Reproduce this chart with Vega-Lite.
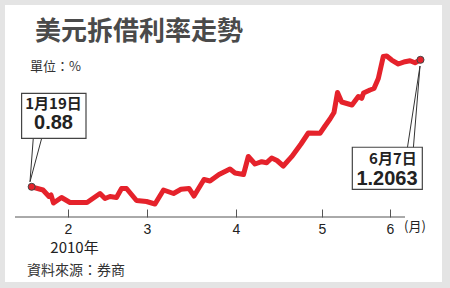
{
  "$schema": "https://vega.github.io/schema/vega-lite/v6.json",
  "width": 437,
  "height": 277,
  "autosize": {"type": "none"},
  "padding": {"left": 5, "top": 5, "right": 8, "bottom": 6},
  "background": "#e4e4e4",
  "config": {"view": {"fill": "white", "stroke": null}},
  "data": {"values": [
    {"m": 1.546, "rate": 0.88},
    {"m": 1.6875, "rate": 0.8718},
    {"m": 1.7625, "rate": 0.8551},
    {"m": 1.7875, "rate": 0.859},
    {"m": 1.8188, "rate": 0.8384},
    {"m": 1.9188, "rate": 0.8526},
    {"m": 2.025, "rate": 0.8397},
    {"m": 2.15, "rate": 0.8397},
    {"m": 2.2375, "rate": 0.8397},
    {"m": 2.4, "rate": 0.8628},
    {"m": 2.4625, "rate": 0.85},
    {"m": 2.525, "rate": 0.8551},
    {"m": 2.606, "rate": 0.8526},
    {"m": 2.669, "rate": 0.8757},
    {"m": 2.731, "rate": 0.8757},
    {"m": 2.856, "rate": 0.8448},
    {"m": 2.981, "rate": 0.8423},
    {"m": 3.0875, "rate": 0.8358},
    {"m": 3.194, "rate": 0.8718},
    {"m": 3.319, "rate": 0.8628},
    {"m": 3.4125, "rate": 0.8736},
    {"m": 3.5125, "rate": 0.8757},
    {"m": 3.575, "rate": 0.8564},
    {"m": 3.7, "rate": 0.8988},
    {"m": 3.775, "rate": 0.8949},
    {"m": 3.8875, "rate": 0.9116},
    {"m": 4.025, "rate": 0.9258},
    {"m": 4.0875, "rate": 0.9155},
    {"m": 4.194, "rate": 0.9116},
    {"m": 4.254, "rate": 0.9579},
    {"m": 4.3375, "rate": 0.9386},
    {"m": 4.421, "rate": 0.9445},
    {"m": 4.484, "rate": 0.942},
    {"m": 4.546, "rate": 0.954},
    {"m": 4.6125, "rate": 0.9476},
    {"m": 4.691, "rate": 0.9335},
    {"m": 4.796, "rate": 0.9574},
    {"m": 4.9125, "rate": 0.99},
    {"m": 5.004, "rate": 1.0183},
    {"m": 5.15, "rate": 1.0175},
    {"m": 5.2125, "rate": 1.0363},
    {"m": 5.275, "rate": 1.0542},
    {"m": 5.325, "rate": 1.0709},
    {"m": 5.369, "rate": 1.1223},
    {"m": 5.421, "rate": 1.0979},
    {"m": 5.55, "rate": 1.0902},
    {"m": 5.629, "rate": 1.1121},
    {"m": 5.671, "rate": 1.1074},
    {"m": 5.694, "rate": 1.121},
    {"m": 5.775, "rate": 1.1288},
    {"m": 5.825, "rate": 1.1326},
    {"m": 5.879, "rate": 1.1583},
    {"m": 5.941, "rate": 1.2148},
    {"m": 5.984, "rate": 1.2161},
    {"m": 6.046, "rate": 1.2058},
    {"m": 6.129, "rate": 1.1956},
    {"m": 6.2125, "rate": 1.2015},
    {"m": 6.275, "rate": 1.204},
    {"m": 6.3375, "rate": 1.1989},
    {"m": 6.406, "rate": 1.2063}
  ]},
  "layer": [
    {
      "data": {"values": [{}]},
      "mark": {"type": "rule", "color": "#555555", "strokeWidth": 1},
      "encoding": {
        "x": {"datum": 1.3375, "type": "quantitative", "scale": {"domain": [1.2125, 6.675], "nice": false, "zero": false}, "axis": {
          "orient": "bottom", "offset": -65, "domain": false, "grid": false,
          "values": [2.0, 2.9875, 4.1, 5.175, 6.025],
          "labelExpr": "round(datum.value)",
          "tickSize": -8, "tickColor": "#555555", "tickWidth": 1,
          "labelFont": "Liberation Sans", "labelFontSize": 14, "labelColor": "#222222",
          "labelPadding": 13, "title": null
        }},
        "x2": {"datum": 6.2125},
        "y": {"datum": 0.8024, "type": "quantitative", "scale": {"domain": [0.6354, 1.3472], "nice": false, "zero": false}, "axis": null}
      }
    },
    {
      "mark": {"type": "line", "color": "#e5222b", "strokeWidth": 5, "strokeJoin": "round"},
      "encoding": {
        "x": {"field": "m", "type": "quantitative", "title": null},
        "y": {"field": "rate", "type": "quantitative", "axis": null}
      }
    },
    {
      "transform": [{"filter": "datum.m < 1.6 || datum.m > 6.4"}],
      "mark": {"type": "point", "filled": true, "fill": "#e5222b", "stroke": "#444444", "strokeWidth": 1, "size": 50, "opacity": 1},
      "encoding": {
        "x": {"field": "m", "type": "quantitative", "title": null},
        "y": {"field": "rate", "type": "quantitative"}
      }
    },
    {
      "data": {"values": [{}]},
      "mark": {"type": "rule", "color": "#333333", "strokeWidth": 1},
      "encoding": {"x": {"datum": 1.566, "type": "quantitative"}, "y": {"datum": 1.0047, "type": "quantitative"}, "x2": {"datum": 1.525}, "y2": {"datum": 0.8929}}
    },
    {
      "data": {"values": [{}]},
      "mark": {"type": "rule", "color": "#333333", "strokeWidth": 1},
      "encoding": {"x": {"datum": 1.671, "type": "quantitative"}, "y": {"datum": 1.0047, "type": "quantitative"}, "x2": {"datum": 1.525}, "y2": {"datum": 0.8929}}
    },
    {
      "data": {"values": [{}]},
      "mark": {"type": "rule", "color": "#333333", "strokeWidth": 1},
      "encoding": {"x": {"datum": 6.1625, "type": "quantitative"}, "y": {"datum": 0.8736, "type": "quantitative"}, "x2": {"datum": 6.4}, "y2": {"datum": 1.1904}}
    },
    {
      "data": {"values": [{}]},
      "mark": {"type": "rule", "color": "#333333", "strokeWidth": 1},
      "encoding": {"x": {"datum": 6.275, "type": "quantitative"}, "y": {"datum": 0.8736, "type": "quantitative"}, "x2": {"datum": 6.4}, "y2": {"datum": 1.1904}}
    },
    {
      "data": {"values": [{}]},
      "mark": {"type": "rect", "fill": "white", "stroke": "#444444", "strokeWidth": 1.2},
      "encoding": {"x": {"datum": 1.42, "type": "quantitative"}, "x2": {"datum": 2.225}, "y": {"datum": 1.1203, "type": "quantitative"}, "y2": {"datum": 1.0047}}
    },
    {
      "data": {"values": [{}]},
      "mark": {"type": "rect", "fill": "white", "stroke": "#444444", "strokeWidth": 1.2},
      "encoding": {"x": {"datum": 5.554, "type": "quantitative"}, "x2": {"datum": 6.429}, "y": {"datum": 0.9816, "type": "quantitative"}, "y2": {"datum": 0.8736}}
    },
    {
      "data": {"values": [{}]},
      "mark": {"type": "text", "font": "Noto Sans CJK TC", "fontSize": 26, "fontWeight": "bold", "color": "#4a4a4a", "align": "left", "baseline": "middle"},
      "encoding": {"x": {"datum": 1.5875, "type": "quantitative"}, "y": {"datum": 1.2791, "type": "quantitative"}, "text": {"value": "美元拆借利率走勢"}}
    },
    {
      "data": {"values": [{}]},
      "mark": {"type": "text", "font": "Noto Sans CJK TC", "fontSize": 13, "color": "#333333", "align": "left", "baseline": "middle"},
      "encoding": {"x": {"datum": 1.525, "type": "quantitative"}, "y": {"datum": 1.1891, "type": "quantitative"}, "text": {"value": "單位：%"}}
    },
    {
      "data": {"values": [{}]},
      "mark": {"type": "text", "font": "Noto Sans CJK TC", "fontSize": 15, "fontWeight": "bold", "color": "#222222", "align": "center", "baseline": "middle"},
      "encoding": {"x": {"datum": 1.81875, "type": "quantitative"}, "y": {"datum": 1.0928, "type": "quantitative"}, "text": {"value": "1月19日"}}
    },
    {
      "data": {"values": [{}]},
      "mark": {"type": "text", "font": "Liberation Sans", "fontSize": 20, "fontWeight": "bold", "color": "#222222", "align": "center", "baseline": "middle"},
      "encoding": {"x": {"datum": 1.81875, "type": "quantitative"}, "y": {"datum": 1.0427, "type": "quantitative"}, "text": {"value": "0.88"}}
    },
    {
      "data": {"values": [{}]},
      "mark": {"type": "text", "font": "Noto Sans CJK TC", "fontSize": 15, "fontWeight": "bold", "color": "#222222", "align": "right", "baseline": "middle"},
      "encoding": {"x": {"datum": 6.36, "type": "quantitative"}, "y": {"datum": 0.9515, "type": "quantitative"}, "text": {"value": "6月7日"}}
    },
    {
      "data": {"values": [{}]},
      "mark": {"type": "text", "font": "Liberation Sans", "fontSize": 20, "fontWeight": "bold", "color": "#222222", "align": "right", "baseline": "middle"},
      "encoding": {"x": {"datum": 6.37, "type": "quantitative"}, "y": {"datum": 0.8988, "type": "quantitative"}, "text": {"value": "1.2063"}}
    },
    {
      "data": {"values": [{}]},
      "mark": {"type": "text", "font": "Noto Sans CJK TC", "fontSize": 13, "color": "#222222", "align": "left", "baseline": "middle"},
      "encoding": {"x": {"datum": 6.2, "type": "quantitative"}, "y": {"datum": 0.7768, "type": "quantitative"}, "text": {"value": "(月)"}}
    },
    {
      "data": {"values": [{}]},
      "mark": {"type": "text", "font": "Noto Sans CJK TC", "fontSize": 15, "color": "#222222", "align": "center", "baseline": "middle"},
      "encoding": {"x": {"datum": 2.08125, "type": "quantitative"}, "y": {"datum": 0.7215, "type": "quantitative"}, "text": {"value": "2010年"}}
    },
    {
      "data": {"values": [{}]},
      "mark": {"type": "text", "font": "Noto Sans CJK TC", "fontSize": 14, "color": "#333333", "align": "left", "baseline": "middle"},
      "encoding": {"x": {"datum": 1.4875, "type": "quantitative"}, "y": {"datum": 0.6637, "type": "quantitative"}, "text": {"value": "資料來源：券商"}}
    }
  ]
}
